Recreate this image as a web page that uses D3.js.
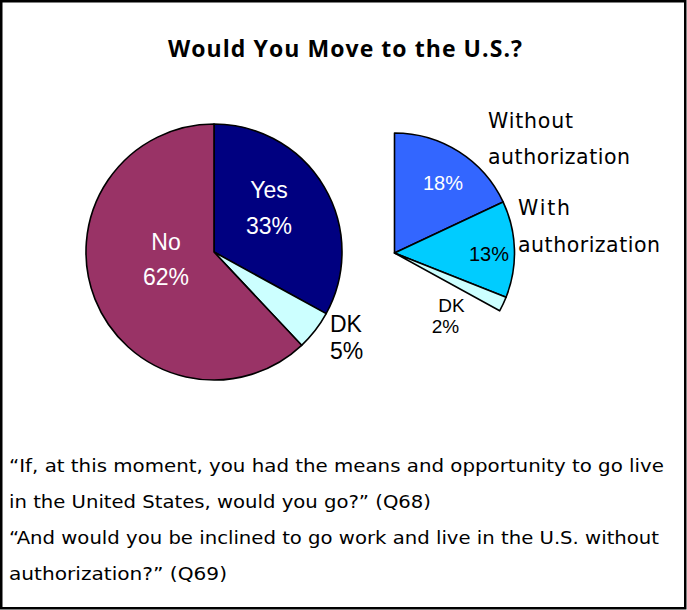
<!DOCTYPE html>
<html>
<head>
<meta charset="utf-8">
<script src="https://cdn.jsdelivr.net/npm/d3@7"></script>
<style>
  html, body { margin: 0; padding: 0; background: #fff; }
  svg { display: block; font-family: "DejaVu Sans", sans-serif; }
</style>
</head>
<body>
<svg id="chart" width="687" height="610"></svg>
<script>
// Survey answers: would the respondent move to the U.S.?
const mainLabels = ["Yes", "DK", "No"];
const mainValues = [33, 5, 62];

// Break-down of the "Yes" answers by willingness to go without authorization
const subLabels = ["Without authorization", "With authorization", "DK"];
const subValues = [18, 13, 2];

const titleText = "Would You Move to the U.S.?";
const noteLines = [
  "\u201CIf, at this moment, you had the means and opportunity to go live",
  "in the United States, would you go?\u201D (Q68)",
  "\u201CAnd would you be inclined to go work and live in the U.S. without",
  "authorization?\u201D (Q69)"
];

// ---- styling / layout ----
const labelFont = "'Liberation Sans', Arial, sans-serif";
const nameFont = "'DejaVu Sans', sans-serif";
const mainColors = ["#000080", "#CCFFFF", "#993366"];
const subColors = ["#3366FF", "#00CCFF", "#CCFFFF"];
const mainCenter = [214, 252], mainR = 128;
const subCenter = [394.5, 253], subR = 120;

// label anchors (dx, dy from pie centre), text colour, anchor, line gap
const mainLabelLayout = [
  { dx: 55, dy: -54, fill: "#fff", anchor: "middle", gap: 36 },
  { dx: 116, dy: 80, fill: "#000", anchor: "start", gap: 26.5 },
  { dx: -48, dy: -2, fill: "#fff", anchor: "middle", gap: 34.5 }
];
const subLabelLayout = [
  { dx: 93.5, dy: -125.5, gap: 36, len: [85, 142], pct: { dx: 48.5, dy: -63.5, fill: "#fff" } },
  { dx: 123.5, dy: -38, gap: 36.5, len: [52, 142], pct: { dx: 94.5, dy: 8, fill: "#000" } },
  { dx: 57, dy: 58.5, gap: 21.8 }
];

const svg = d3.select("#chart");

// outer frame
svg.append("rect")
  .attr("x", 1.25).attr("y", 1.25)
  .attr("width", 684).attr("height", 607)
  .attr("fill", "#fff").attr("stroke", "#000").attr("stroke-width", 2.5);

// title
svg.append("text")
  .attr("x", 345).attr("y", 57)
  .attr("text-anchor", "middle")
  .style("font-family", "'Open Sans', sans-serif")
  .attr("font-size", 23).attr("font-weight", 700)
  .attr("textLength", 354).attr("lengthAdjust", "spacing")
  .text(titleText);

// ---- main pie ----
const pie = d3.pie().sort(null).value(d => d);
const mainArcs = pie(mainValues);
const mainArc = d3.arc().innerRadius(0).outerRadius(mainR);

const gMain = svg.append("g").attr("transform", `translate(${mainCenter})`);
gMain.selectAll("path")
  .data(mainArcs)
  .join("path")
  .attr("d", mainArc)
  .attr("fill", (d, i) => mainColors[i])
  .attr("stroke", "#000").attr("stroke-width", 1.6)
  .attr("stroke-linejoin", "round");

mainArcs.forEach((a, i) => {
  const L = mainLabelLayout[i];
  [mainLabels[i], a.data + "%"].forEach((s, k) => {
    gMain.append("text")
      .attr("x", L.dx).attr("y", L.dy + k * L.gap)
      .attr("text-anchor", L.anchor)
      .style("font-family", labelFont)
      .attr("font-size", 23)
      .attr("fill", L.fill)
      .text(s);
  });
});

// ---- secondary partial pie (the "Yes" share split) ----
const yesAngle = mainArcs[0].endAngle;
const subPie = d3.pie().sort(null).value(d => d).startAngle(0).endAngle(yesAngle);
const subArcs = subPie(subValues);
const subArc = d3.arc().innerRadius(0).outerRadius(subR);

const gSub = svg.append("g").attr("transform", `translate(${subCenter})`);
gSub.selectAll("path")
  .data(subArcs)
  .join("path")
  .attr("d", subArc)
  .attr("fill", (d, i) => subColors[i])
  .attr("stroke", "#000").attr("stroke-width", 1.6)
  .attr("stroke-linejoin", "round");

subArcs.forEach((a, i) => {
  const L = subLabelLayout[i];
  if (L.pct) {
    subLabels[i].split(" ").forEach((w, k) => {
      gSub.append("text")
        .attr("x", L.dx).attr("y", L.dy + k * L.gap)
        .style("font-family", nameFont)
        .attr("font-size", 20.5)
        .attr("textLength", L.len[k]).attr("lengthAdjust", "spacing")
        .text(w);
    });
    gSub.append("text")
      .attr("x", L.pct.dx).attr("y", L.pct.dy)
      .attr("text-anchor", "middle")
      .style("font-family", labelFont)
      .attr("font-size", 20)
      .attr("fill", L.pct.fill)
      .text(a.data + "%");
  } else {
    [subLabels[i], a.data + "%"].forEach((s, k) => {
      gSub.append("text")
        .attr("x", L.dx - k * 6).attr("y", L.dy + k * L.gap)
        .attr("text-anchor", "middle")
        .style("font-family", labelFont)
        .attr("font-size", 19)
        .text(s);
    });
  }
});

// ---- question wording ----
const noteY = [472, 508, 543.5, 580];
const noteLen = [655, 422, 650, 218];
svg.selectAll("text.note")
  .data(noteLines)
  .join("text")
  .attr("class", "note")
  .attr("x", 9)
  .attr("y", (d, i) => noteY[i])
  .attr("font-size", 18)
  .attr("textLength", (d, i) => noteLen[i])
  .attr("lengthAdjust", "spacingAndGlyphs")
  .text(d => d);
</script>
</body>
</html>
